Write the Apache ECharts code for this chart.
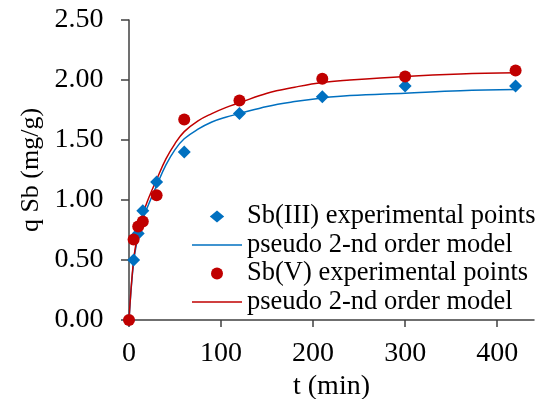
<!DOCTYPE html>
<html>
<head>
<meta charset="utf-8">
<script src="https://cdn.jsdelivr.net/npm/echarts@6/dist/echarts.min.js"></script>
<style>html,body{margin:0;padding:0;background:#fff}#c{width:535px;height:399px}</style>
</head>
<body>
<div id="c"></div>
<script>
var expT = [0, 5, 10, 15, 30, 60, 120, 210, 300, 420];
var sb3Points = [0, 0.50, 0.72, 0.91, 1.15, 1.40, 1.72, 1.86, 1.95, 1.95];
var sb5Points = [0, 0.67, 0.78, 0.82, 1.04, 1.67, 1.83, 2.01, 2.03, 2.08];
var modelT = [0, 5, 10, 15, 20, 30, 40, 50, 60, 75, 90, 105, 120, 150, 180, 210, 240, 300, 360, 420];
var sb3Model = [0, 0.48, 0.70, 0.84, 0.94, 1.12, 1.29, 1.42, 1.51, 1.59, 1.65, 1.69, 1.72, 1.78, 1.82, 1.85, 1.87, 1.89, 1.91, 1.92];
var sb5Model = [0, 0.50, 0.73, 0.88, 0.99, 1.17, 1.34, 1.47, 1.57, 1.66, 1.72, 1.77, 1.81, 1.89, 1.94, 1.98, 2.00, 2.03, 2.05, 2.06];
var xTicks = [0, 100, 200, 300, 400];
var names = ['Sb(III) experimental points', 'pseudo 2-nd order model', 'Sb(V) experimental points', 'pseudo 2-nd order model '];

function pairs(xs, ys) { return xs.map(function (x, i) { return [x, ys[i]]; }); }
var FONT = "'Liberation Serif', 'Times New Roman', serif";
var BLUE = '#0070C0', RED = '#C00000';
var LINE_ICON = 'path://M0,0H50V1.6H0Z';
var DIAMOND_ICON = 'path://M0,5L6,0L12,5L6,10Z';

var chart = echarts.init(document.getElementById('c'));
chart.setOption({
  animation: false,
  backgroundColor: '#fff',
  grid: { left: 129, top: 20, right: 1, bottom: 79, containLabel: false, outerBoundsMode: 'none' },
  xAxis: {
    type: 'value', min: 0, max: 440, interval: 100,
    name: 't (min)', nameLocation: 'middle', nameGap: 47,
    nameTextStyle: { fontFamily: FONT, fontSize: 28, color: '#000' },
    axisLine: { lineStyle: { color: '#404040', width: 1.5 } },
    axisTick: { show: true, length: 7, inside: false, customValues: xTicks, lineStyle: { color: '#404040', width: 1.5 } },
    axisLabel: { customValues: xTicks, margin: 20, fontFamily: FONT, fontSize: 28, color: '#000' },
    splitLine: { show: false }
  },
  yAxis: {
    type: 'value', min: 0, max: 2.5, interval: 0.5,
    axisLine: { show: true, lineStyle: { color: '#404040', width: 1.5 } },
    axisTick: { show: true, length: 8, inside: false, lineStyle: { color: '#404040', width: 1.5 } },
    axisLabel: { margin: 25.5, fontFamily: FONT, fontSize: 28, color: '#000',
      formatter: function (v) { return v.toFixed(2); } },
    splitLine: { show: false }
  },
  legend: {
    orient: 'vertical', left: 192, top: 203, padding: 0,
    itemWidth: 50, itemHeight: 12, itemGap: 1.5, symbolKeepAspect: true,
    data: [
      { name: names[0], icon: DIAMOND_ICON, itemStyle: { color: BLUE } },
      { name: names[1], icon: LINE_ICON, itemStyle: { color: BLUE } },
      { name: names[2], icon: 'circle', itemStyle: { color: RED } },
      { name: names[3], icon: LINE_ICON, itemStyle: { color: RED } }
    ],
    textStyle: { fontFamily: FONT, fontSize: 26.5, color: '#000', lineHeight: 26.5 }
  },
  graphic: [{
    type: 'text', x: 31, y: 170, rotation: Math.PI / 2,
    style: { text: 'q Sb (mg/g)', fontFamily: FONT, fontSize: 26, fill: '#000', align: 'center', verticalAlign: 'middle' }
  }],
  series: [
    { name: names[1], type: 'line', smooth: 0.4, symbol: 'none', z: 1,
      data: pairs(modelT, sb3Model), lineStyle: { color: BLUE, width: 1.5 }, itemStyle: { color: BLUE } },
    { name: names[3], type: 'line', smooth: 0.4, symbol: 'none', z: 1,
      data: pairs(modelT, sb5Model), lineStyle: { color: RED, width: 1.5 }, itemStyle: { color: RED } },
    { name: names[0], type: 'scatter', symbol: 'diamond', symbolSize: 13, z: 3,
      data: pairs(expT, sb3Points), itemStyle: { color: BLUE, opacity: 1 } },
    { name: names[2], type: 'scatter', symbol: 'circle', symbolSize: 12, z: 4,
      data: pairs(expT, sb5Points), itemStyle: { color: RED, opacity: 1 } }
  ]
});
</script>
</body>
</html>
